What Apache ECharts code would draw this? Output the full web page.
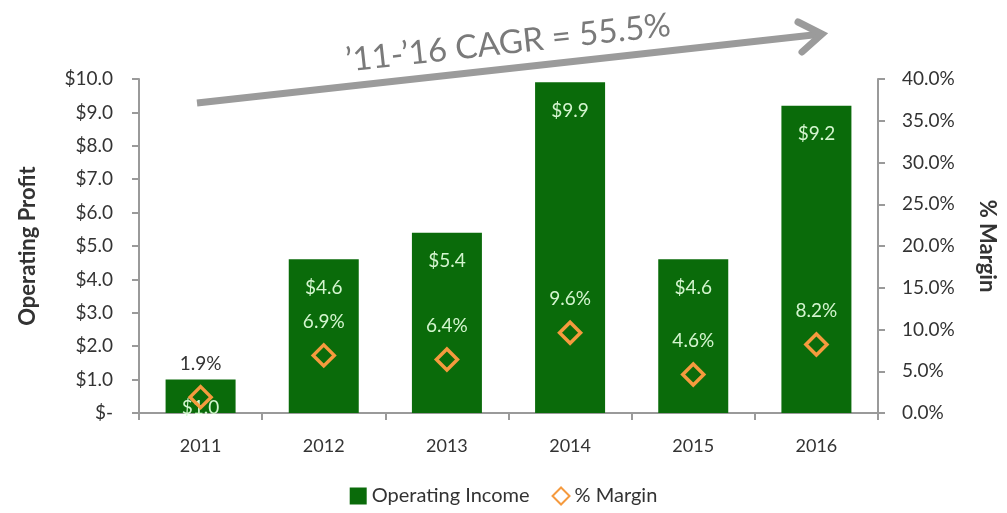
<!DOCTYPE html>
<html>
<head>
<meta charset="utf-8">
<script src="https://cdn.jsdelivr.net/npm/echarts@6/dist/echarts.min.js"></script>
<style>
  html, body { margin: 0; padding: 0; background: #fff; }
  #chart { width: 1007px; height: 513px; }
</style>
</head>
<body>
<div id="chart"></div>
<script>
// data
var years = ["2011", "2012", "2013", "2014", "2015", "2016"];
var operatingIncome = [1.0, 4.6, 5.4, 9.9, 4.6, 9.2];
var marginPct = [1.9, 6.9, 6.4, 9.6, 4.6, 8.2];
var cagrText = "\u201911-\u201916 CAGR = 55.5%";

var font = "Lato";
var green = "#0a6b0a";
var orange = "#f59a3e";
var labelGreen = "#d4f5cf";
var axisGrey = "#9a9a9a";

var chart = echarts.init(document.getElementById("chart"));

var option = {
  animation: false,
  textStyle: { fontFamily: font },
  grid: { left: 139, right: 129, top: 79, bottom: 100 },
  legend: {
    bottom: 2,
    left: "center",
    itemGap: 22,
    itemWidth: 17,
    itemHeight: 17,
    textStyle: { fontSize: 20, color: "#333", fontFamily: font },
    data: [
      { name: "Operating Income", icon: "rect" },
      { name: "% Margin" }
    ]
  },
  xAxis: {
    type: "category",
    data: years,
    axisLine: { lineStyle: { color: axisGrey, width: 2 } },
    axisTick: { show: true, length: 7, lineStyle: { color: axisGrey, width: 2 } },
    axisLabel: { fontSize: 18, color: "#333", margin: 24 }
  },
  yAxis: [
    {
      type: "value",
      min: 0, max: 10, interval: 1,
      name: "Operating Profit",
      nameLocation: "middle",
      nameGap: 100,
      nameRotate: 90,
      nameTextStyle: { fontSize: 22, fontWeight: "bold", color: "#333" },
      splitLine: { show: false },
      axisLine: { show: true, lineStyle: { color: axisGrey, width: 2 } },
      axisTick: { show: true, length: 7, lineStyle: { color: axisGrey, width: 2 } },
      axisLabel: {
        fontSize: 19, color: "#333", margin: 26,
        formatter: function (v) { return v === 0 ? "$-" : "$" + v.toFixed(1); }
      }
    },
    {
      type: "value",
      min: 0, max: 40, interval: 5,
      name: "% Margin",
      nameLocation: "middle",
      nameGap: 98,
      nameRotate: -90,
      nameTextStyle: { fontSize: 22, fontWeight: "bold", color: "#333" },
      splitLine: { show: false },
      axisLine: { show: true, lineStyle: { color: axisGrey, width: 2 } },
      axisTick: { show: true, length: 7, lineStyle: { color: axisGrey, width: 2 } },
      axisLabel: {
        fontSize: 19, color: "#333", margin: 24,
        formatter: function (v) { return v.toFixed(1) + "%"; }
      }
    }
  ],
  series: [
    {
      name: "Operating Income",
      type: "bar",
      barWidth: 70,
      data: operatingIncome,
      itemStyle: { color: green },
      label: {
        show: true,
        position: "insideTop",
        distance: 19,
        fontSize: 19,
        color: labelGreen,
        formatter: function (p) { return "$" + p.value.toFixed(1); }
      },
      z: 2
    },
    {
      name: "% Margin",
      type: "scatter",
      yAxisIndex: 1,
      symbol: "diamond",
      symbolSize: [21, 21],
      data: marginPct.map(function (v, i) {
        return {
          value: v,
          label: { color: operatingIncome[i] * 4 > v + 4 ? labelGreen : "#333" }
        };
      }),
      itemStyle: { color: "rgba(255,255,255,0)", borderColor: orange, borderWidth: 3.5, opacity: 1 },
      label: {
        show: true,
        position: "top",
        distance: 12,
        fontSize: 19,
        formatter: function (p) { return p.value.toFixed(1) + "%"; }
      },
      z: 3
    }
  ],
  graphic: [
    {
      type: "line",
      shape: { x1: 197, y1: 103, x2: 822, y2: 34 },
      style: { stroke: "#9b9b9b", lineWidth: 7, lineCap: "butt" }
    },
    {
      type: "polyline",
      shape: { points: [[798, 22], [822, 34], [802, 52]] },
      style: { stroke: "#9b9b9b", lineWidth: 7, fill: null, lineJoin: "miter", lineCap: "round" }
    },
    {
      type: "text",
      x: 508,
      y: 43,
      rotation: 6.3 * Math.PI / 180,
      style: {
        text: cagrText,
        font: "33px " + font,
        fill: "#7a7a7a",
        align: "center",
        verticalAlign: "middle"
      }
    }
  ]
};

chart.setOption(option);
</script>
</body>
</html>
